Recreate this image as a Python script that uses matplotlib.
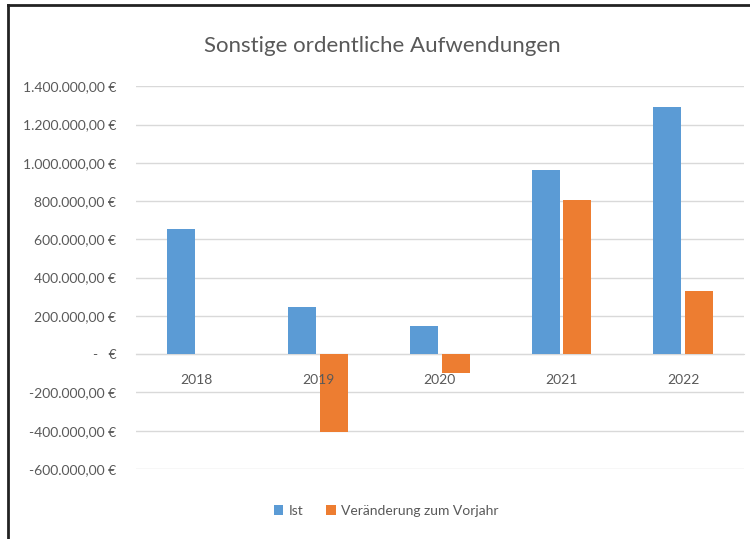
import numpy as np
import matplotlib
matplotlib.use('Agg')
import matplotlib.pyplot as plt
from matplotlib.lines import Line2D
from matplotlib.ticker import FuncFormatter

years = ['2018', '2019', '2020', '2021', '2022']
ist = [655000, 246000, 148000, 960000, 1290000]
veraenderung = [np.nan, -409000, -98000, 806000, 328000]
yticks = [-600000, -400000, -200000, 0, 200000, 400000, 600000,
          800000, 1000000, 1200000, 1400000]

BLUE = '#5B9BD5'
ORANGE = '#ED7D31'
GREY = '#595959'
GRID = '#D9D9D9'

plt.rcParams['font.family'] = ['Lato', 'DejaVu Sans']


def euro(v, pos=None):
    if v == 0:
        return '-   €'
    s = '{:,.2f}'.format(v)
    s = s.replace(',', 'X').replace('.', ',').replace('X', '.')
    return s + ' €'


def main():
    fig = plt.figure(figsize=(7.5, 5.39), dpi=100)
    ax = fig.add_axes([0.181, 0.130, 0.811, 0.710])

    x = np.arange(len(years))
    w = 0.23
    ax.bar(x - 0.13, ist, w, color=BLUE, label='Ist', zorder=3)
    ax.bar(x + 0.13, veraenderung, w, color=ORANGE,
           label='Veränderung zum Vorjahr', zorder=3)

    ax.set_xlim(-0.5, len(years) - 0.5)
    ax.set_ylim(-600000, 1400000)
    ax.set_yticks(yticks)
    ax.yaxis.set_major_formatter(FuncFormatter(euro))
    ax.set_xticks(x)
    ax.set_xticklabels(years)
    ax.grid(axis='y', color=GRID, linewidth=1, zorder=0)
    # year labels sit on top of the bars like in Excel
    ax.xaxis.set_zorder(4)

    for side in ['top', 'right', 'left']:
        ax.spines[side].set_visible(False)
    ax.spines['bottom'].set_position(('data', 0))
    ax.spines['bottom'].set_color(GRID)
    ax.tick_params(axis='both', length=0, colors=GREY, labelsize=10)
    ax.tick_params(axis='x', pad=14)
    ax.tick_params(axis='y', pad=14)

    fig.text(0.51, 0.915, 'Sonstige ordentliche Aufwendungen',
             ha='center', va='center', fontsize=16, color=GREY)

    fig.legend(loc='center', bbox_to_anchor=(0.515, 0.052), ncol=2,
               frameon=False, fontsize=10, labelcolor=GREY,
               handlelength=0.7, handleheight=0.7, handletextpad=0.4,
               columnspacing=1.6)

    # screenshot frame
    fig.add_artist(Line2D([0.011, 0.011], [0, 0.99], color='#222222',
                          linewidth=2, transform=fig.transFigure))
    fig.add_artist(Line2D([0.011, 1.0], [0.99, 0.99], color='#222222',
                          linewidth=2, transform=fig.transFigure))

    fig.savefig('out.png', dpi=100)


if __name__ == '__main__':
    main()
